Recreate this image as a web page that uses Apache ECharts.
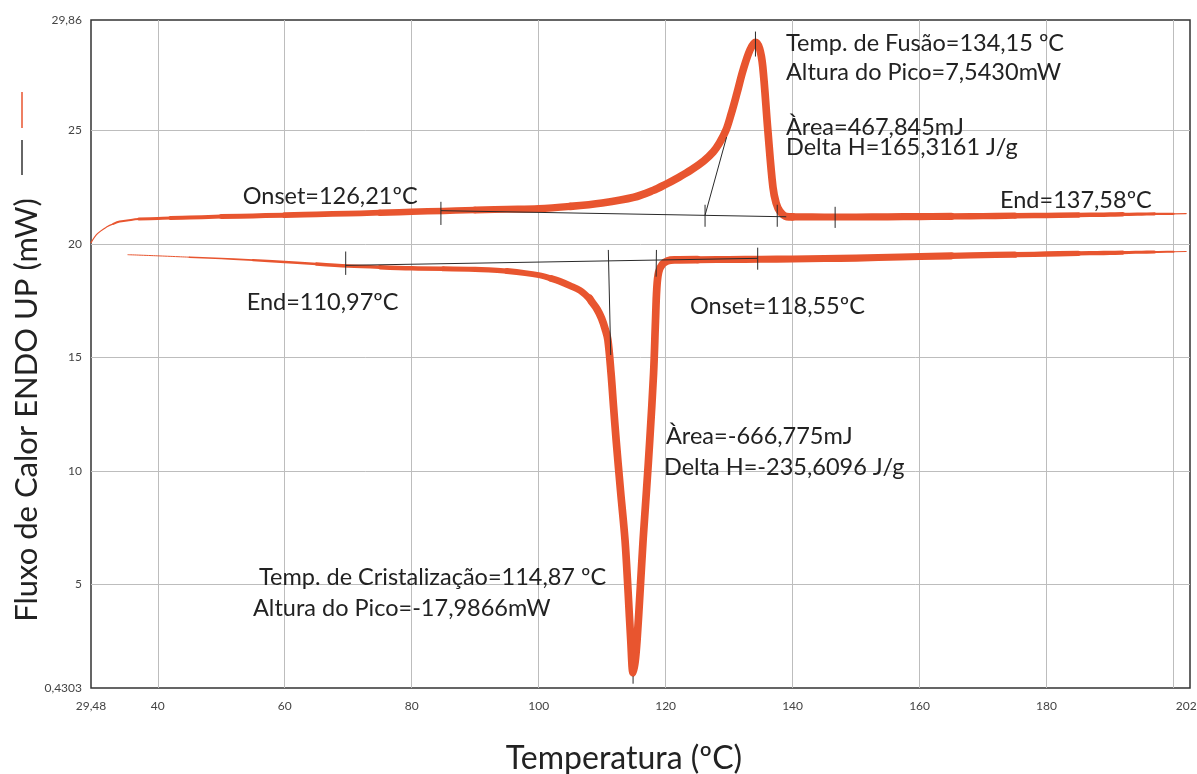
<!DOCTYPE html>
<html>
<head>
<meta charset="utf-8">
<script src="https://cdn.jsdelivr.net/npm/echarts@6/dist/echarts.min.js"></script>
<style>
html,body{margin:0;padding:0;background:#fff;}
#chart{width:1197px;height:774px;}
</style>
</head>
<body>
<div id="chart"></div>
<script>
// ---------------- DATA ----------------
const X_TICKS = [29.48, 40, 60, 80, 100, 120, 140, 160, 180, 202];
const Y_TICKS = [0.4303, 5, 10, 15, 20, 25, 29.86];
const X_GRID = [40, 60, 80, 100, 120, 140, 160, 180, 200];
const Y_GRID = [5, 10, 15, 20, 25];

// heating curve (endothermic peak up)
const HEAT_T = [29.48, 30.5, 32, 33, 34, 36, 37, 40, 42, 45, 50, 55, 60, 65, 70, 75, 80, 85, 90, 95, 100, 105, 110, 115, 118, 120, 122, 124, 126, 127.5, 128.5, 129.5, 130.3, 131.2, 132.2, 133.3, 134.15, 134.8, 135.3, 136.1, 136.9, 137.4, 138.0, 139.05, 140, 145, 150, 155, 160, 165, 170, 175, 180, 185, 188, 190, 192, 193, 195, 197, 199, 200, 202];
const HEAT_W = [20.05, 20.45, 20.75, 20.88, 20.98, 21.06, 21.09, 21.12, 21.14, 21.16, 21.2, 21.23, 21.26, 21.3, 21.33, 21.37, 21.41, 21.45, 21.49, 21.52, 21.55, 21.65, 21.8, 22.05, 22.35, 22.62, 22.92, 23.25, 23.65, 24.05, 24.45, 25.0, 25.7, 26.6, 27.65, 28.55, 28.88, 28.6, 27.8, 25.0, 22.5, 21.8, 21.43, 21.2, 21.19, 21.18, 21.18, 21.19, 21.2, 21.21, 21.22, 21.24, 21.25, 21.27, 21.28, 21.29, 21.3, 21.3, 21.31, 21.32, 21.32, 21.32, 21.33];

// cooling curve (exothermic peak down)
const COOL_T = [35.3, 40, 45, 50, 55, 60, 65, 70, 75, 80, 85, 90, 95, 100, 102, 103.3, 105, 106.5, 107.5, 108, 108.3, 109.2, 109.9, 110.5, 110.9, 111.4, 111.8, 112.2, 112.9, 113.6, 114.1, 114.5, 114.87, 115.2, 115.5, 116.0, 116.45, 117.0, 117.5, 118.1, 118.4, 118.6, 118.9, 119.5, 120.3, 121.5, 125, 130, 135, 140, 145, 150, 157, 165, 170, 175, 180, 185, 188, 190, 192, 193, 195, 197, 199, 200, 202];
const COOL_W = [19.52, 19.47, 19.41, 19.35, 19.28, 19.2, 19.11, 19.02, 18.97, 18.92, 18.9, 18.87, 18.8, 18.62, 18.47, 18.35, 18.15, 17.95, 17.72, 17.6, 17.47, 17.12, 16.72, 16.22, 15.77, 14.3, 12.8, 11.36, 9.1, 6.95, 4.6, 2.54, 1.1, 1.6, 2.54, 4.8, 6.95, 9.2, 11.36, 14.3, 16.6, 18.0, 18.75, 19.1, 19.25, 19.29, 19.3, 19.31, 19.32, 19.33, 19.35, 19.37, 19.42, 19.47, 19.5, 19.52, 19.55, 19.58, 19.59, 19.6, 19.61, 19.62, 19.63, 19.64, 19.65, 19.65, 19.66];

// analysis guide lines (baselines, tangents, limit ticks) in data units
const GUIDE_LINES = [
  [[84.6, 21.46], [139.0, 21.19]],      // heating baseline
  [[84.6, 21.85], [84.6, 20.83]],
  [[126.21, 21.72], [126.21, 20.75]],
  [[137.58, 21.72], [137.58, 20.75]],
  [[146.7, 21.63], [146.7, 20.7]],
  [[134.15, 29.35], [134.15, 28.25]],
  [[126.21, 21.26], [129.6, 24.7]],     // onset tangent
  [[69.6, 19.05], [134.5, 19.36]],      // cooling baseline
  [[69.6, 19.66], [69.6, 18.63]],
  [[134.5, 19.83], [134.5, 18.86]],
  [[110.97, 19.73], [111.35, 15.1]],
  [[118.55, 19.73], [118.5, 18.55]],
  [[114.87, 0.95], [114.87, 0.62]]
];

const LABELS = [
  'Temp. de Fusão=134,15 ºC',
  'Altura do Pico=7,5430mW',
  'Àrea=467,845mJ',
  'Delta H=165,3161 J/g',
  'Onset=126,21ºC',
  'End=137,58ºC',
  'End=110,97ºC',
  'Onset=118,55ºC',
  'Àrea=-666,775mJ',
  'Delta H=-235,6096 J/g',
  'Temp. de Cristalização=114,87 ºC',
  'Altura do Pico=-17,9866mW'
];
const X_NAME = 'Temperatura (ºC)';
const Y_NAME = 'Fluxo de Calor ENDO UP (mW)';

// ---------------- STYLE / LAYOUT ----------------
const ORANGE = '#E8552F';
const LABEL_POS = [
  [786, 43.5], [786, 72], [786, 127], [786, 147],
  [242.7, 196], [1000, 200.5], [246.7, 302], [690, 306],
  [666, 436], [664, 467.5], [259, 577], [253, 608]
];
const HEAT_WIDTHS = [[29.48, 33, 1.2], [33, 37, 2], [37, 42, 3], [42, 50, 4], [50, 60, 5], [60, 75, 5.8], [75, 90, 6.5], [90, 105, 7.1], [105, 140, 7.7],
  [140, 165, 7.2], [165, 175, 6.4], [175, 185, 5.5], [185, 192, 4.5], [192, 197, 3.2], [197, 200, 2.2], [200, 202, 1.2]];
const COOL_WIDTHS = [[35.3, 45, 1.0], [45, 55, 1.6], [55, 65, 2.4], [65, 75, 3.4], [75, 85, 4.4], [85, 95, 5.2], [95, 102, 6.0], [102, 108, 6.9], [108, 125, 7.7],
  [125, 165, 7.1], [165, 175, 6.3], [175, 185, 5.3], [185, 192, 4.3], [192, 197, 3.1], [197, 200, 2.1], [200, 202, 1.1]];

function pick(xs, ys, a, b) {
  const out = [];
  for (let i = 0; i < xs.length; i++) if (xs[i] >= a && xs[i] <= b) out.push([xs[i], ys[i]]);
  return out;
}
function fmt(v) { return String(v).replace('.', ','); }

const series = [];
// grid lines via markLine
series.push({
  type: 'line', data: [], silent: true, z: 1,
  markLine: {
    silent: true, symbol: ['none', 'none'], label: { show: false }, z: 1,
    lineStyle: { color: '#bdbdbd', width: 1, type: 'solid' },
    emphasis: { disabled: true },
    data: X_GRID.map(v => ({ xAxis: v })).concat(Y_GRID.map(v => ({ yAxis: v })))
  }
});
function addCurve(xs, ys, widths) {
  widths.forEach(([a, b, w]) => {
    series.push({
      type: 'line', data: pick(xs, ys, a, b), showSymbol: false, smooth: 0.35, z: 3,
      silent: true, lineStyle: { color: ORANGE, width: w, cap: 'round', join: 'round' }
    });
  });
}
addCurve(HEAT_T, HEAT_W, HEAT_WIDTHS);
addCurve(COOL_T, COOL_W, COOL_WIDTHS);
GUIDE_LINES.forEach(seg => {
  series.push({
    type: 'line', data: seg, showSymbol: false, z: 4, silent: true,
    lineStyle: { color: '#2a2a2a', width: 1 }
  });
});

const graphics = LABELS.map((t, i) => ({
  type: 'text', x: LABEL_POS[i][0], y: LABEL_POS[i][1], z: 10, silent: true,
  style: { text: t, font: '23.5px Lato', fill: '#222', verticalAlign: 'middle', align: 'left' }
}));
// legend marks beside the y-axis title
graphics.push({ type: 'line', silent: true, shape: { x1: 22, y1: 92, x2: 22, y2: 128 }, style: { stroke: ORANGE, lineWidth: 1.5 } });
graphics.push({ type: 'line', silent: true, shape: { x1: 22, y1: 140, x2: 22, y2: 175 }, style: { stroke: '#333', lineWidth: 1.5 } });

const chart = echarts.init(document.getElementById('chart'), null, { renderer: 'canvas' });
chart.setOption({
  animation: false,
  backgroundColor: '#fff',
  grid: { left: 91, right: 7, top: 20, bottom: 86, show: true, borderColor: '#333', borderWidth: 1.5, backgroundColor: 'transparent', outerBoundsMode: 'none', containLabel: false },
  xAxis: {
    type: 'value', min: 29.48, max: 202.6,
    axisLine: { show: false }, axisTick: { show: false }, splitLine: { show: false },
    axisLabel: { customValues: X_TICKS, formatter: fmt, fontFamily: 'Lato', fontSize: 12, color: '#444', margin: 12, showMinLabel: true, showMaxLabel: true },
    name: X_NAME, nameLocation: 'middle', nameGap: 55, nameMoveOverlap: false,
    nameTextStyle: { fontFamily: 'Lato', fontSize: 32, color: '#222', padding: [0, 33, 0, 0] }
  },
  yAxis: {
    type: 'value', min: 0.4303, max: 29.86,
    axisLine: { show: false }, axisTick: { show: false }, splitLine: { show: false },
    axisLabel: { customValues: Y_TICKS, formatter: fmt, fontFamily: 'Lato', fontSize: 12, color: '#444', margin: 9, showMinLabel: true, showMaxLabel: true },
    name: '{t|' + Y_NAME + '}{s|}', nameLocation: 'middle', nameGap: 49, nameMoveOverlap: false,
    nameTextStyle: {
      rich: {
        t: { fontFamily: 'Lato', fontSize: 31, color: '#222' },
        s: { width: 112 }
      }
    }
  },
  graphic: graphics,
  series: series
});
</script>
</body>
</html>
